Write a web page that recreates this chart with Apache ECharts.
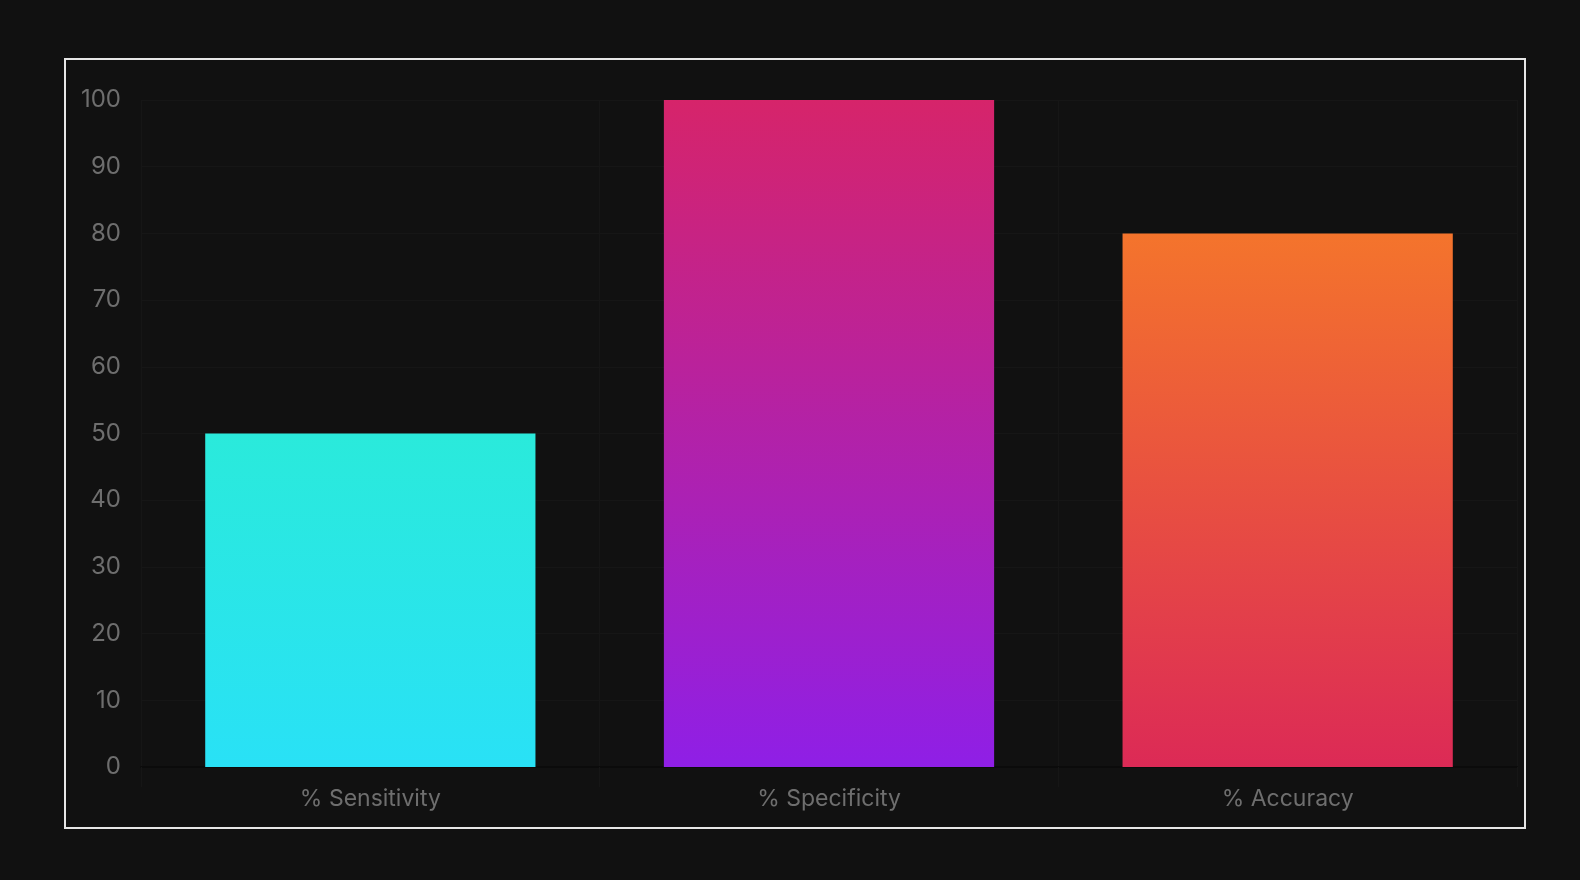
<!DOCTYPE html>
<html>
<head>
<meta charset="utf-8">
<style>
html,body{margin:0;padding:0;background:#111111;}
#chart{width:1580px;height:880px;}
</style>
<script src="https://cdn.jsdelivr.net/npm/echarts@6/dist/echarts.min.js"></script>
</head>
<body>
<div id="chart"></div>
<script>
const categories = ['% Sensitivity', '% Specificity', '% Accuracy'];
const values = [50, 100, 80];
const gradientTop = ['#2aeadb', '#d6246a', '#f4742c'];
const gradientBottom = ['#29e1f6', '#8f1fe6', '#dc2a56'];

const chart = echarts.init(document.getElementById('chart'), null, {renderer: 'canvas'});
const font = 'Inter, "Noto Sans", sans-serif';
chart.setOption({
  backgroundColor: '#111111',
  animation: false,
  graphic: [{
    type: 'rect', silent: true,
    shape: {x: 65, y: 59, width: 1460, height: 769},
    style: {fill: 'none', stroke: '#e6e6e6', lineWidth: 2}
  }],
  grid: {left: 141, right: 63, top: 100, bottom: 113, containLabel: false},
  xAxis: {
    type: 'category',
    data: categories,
    axisLine: {show: true, lineStyle: {color: '#0b0b0b', width: 2}},
    axisTick: {show: true, length: 20, lineStyle: {color: '#161616'}},
    splitLine: {show: true, lineStyle: {color: '#161616'}},
    axisLabel: {color: '#6e6e6e', fontSize: 23, fontFamily: font, margin: 21}
  },
  yAxis: {
    type: 'value',
    min: 0, max: 100, interval: 10,
    axisLine: {show: false},
    axisTick: {show: false},
    splitLine: {show: true, lineStyle: {color: '#161616'}},
    axisLabel: {color: '#6e6e6e', fontSize: 24, fontFamily: font, margin: 20}
  },
  series: [{
    type: 'bar',
    barWidth: '72%',
    data: values.map((v, i) => ({
      value: v,
      itemStyle: {
        color: new echarts.graphic.LinearGradient(0, 0, 0, 1, [
          {offset: 0, color: gradientTop[i]},
          {offset: 1, color: gradientBottom[i]}
        ])
      }
    }))
  }]
});
</script>
</body>
</html>
